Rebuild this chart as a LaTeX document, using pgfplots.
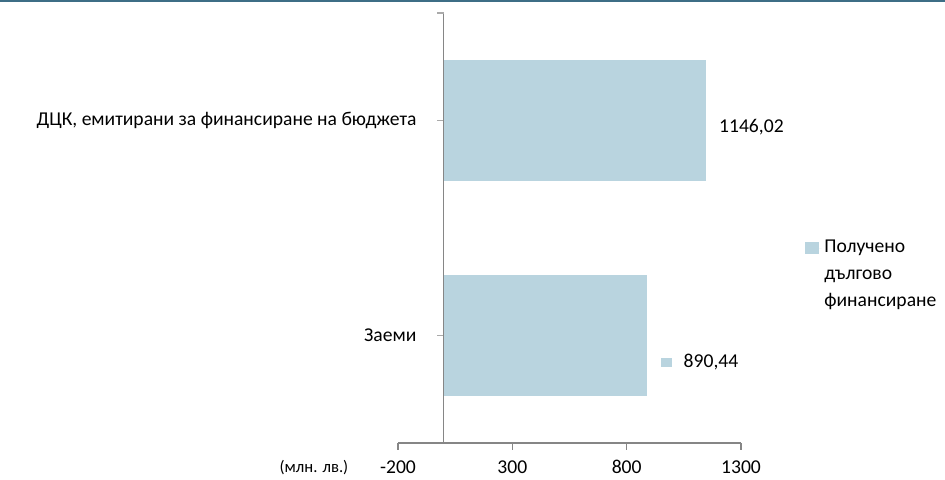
\documentclass[border=0pt]{standalone}
\usepackage{pgfplots}
\pgfplotsset{compat=1.18}
\usepackage{fontspec}
\setmainfont{Carlito}
\definecolor{barblue}{RGB}{185,212,223}
\definecolor{axgray}{RGB}{134,134,134}
\definecolor{topteal}{RGB}{62,110,134}
\newcommand{\dlab}{\pgfmathprintnumber[fixed,fixed zerofill,precision=2,use comma,1000 sep={}]{\pgfplotspointmeta}}
\begin{document}
\begin{tikzpicture}[font=\fontsize{14.7}{20.25}\selectfont]
\useasboundingbox (0,0) rectangle (708.75pt,359.25pt);
\fill[topteal] (0,357.75pt) rectangle (708.75pt,359.25pt);
\begin{axis}[
  at={(298.5pt,27pt)}, anchor=south west,
  scale only axis, width=257.25pt, height=322.5pt,
  xbar, bar width=0.56, bar shift=0pt,
  xmin=-200, xmax=1300, ymin=-0.5, ymax=1.5,
  enlargelimits=false,
  axis x line=bottom, axis y line=center,
  axis line style={-, draw=axgray, line width=1pt},
  xtick={-200,300,800,1300},
  ytick={0,1},
  yticklabels={Заеми, {ДЦК, емитирани за финансиране на бюджета}},
  extra y ticks={1.5}, extra y tick labels={},
  x tick style={axgray, line width=1pt},
  y tick style={axgray!70, line width=0.8pt},
  xtick align=outside, ytick align=outside,
  major tick length=5pt,
  /pgf/number format/1000 sep={},
  /pgf/number format/assume math mode=true,
  xticklabel style={text=black, yshift=-4.5pt},
  yticklabel style={text=black, anchor=east, xshift=-12pt},
  xlabel={(млн. лв.)},
  xlabel style={at={(axis description cs:-0.245,-0.058)}, anchor=center, font=\fontsize{12.5}{15}\selectfont},
  legend style={at={(axis description cs:1.186,0.478)}, anchor=north west, draw=none, fill=none,
    cells={align=left, anchor=west}, inner sep=0pt},
  legend image code/.code={\fill[barblue] (0pt,15.5pt) rectangle (10.25pt,24.75pt); \path (0pt,20pt) -- (12.5pt,20pt);},
  point meta=x,
]
\addplot[fill=barblue, draw=none, nodes near coords={\dlab},
  every node near coord/.append style={anchor=west, xshift=6.5pt, yshift=-5pt, text=black}]
  coordinates {(1146.02,1)};
\addlegendentry{Получено\\дългово\\финансиране}
\addplot[fill=barblue, draw=none, forget plot,
  nodes near coords={\textcolor{barblue}{\rule[0.5pt]{8.25pt}{7pt}}\hspace{9pt}\dlab},
  every node near coord/.append style={anchor=west, xshift=6.5pt, yshift=-20pt, text=black}]
  coordinates {(890.44,0)};
\end{axis}
\end{tikzpicture}
\end{document}
